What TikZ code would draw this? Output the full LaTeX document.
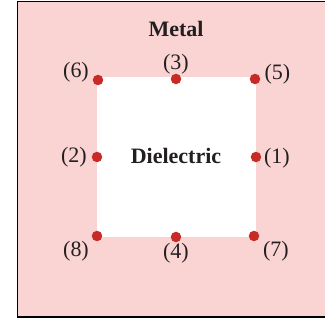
\documentclass[tikz,border=0pt]{standalone}
\usepackage{fontspec}
\setmainfont{Liberation Serif}
\definecolor{metalpink}{RGB}{250,211,211}
\definecolor{dotred}{RGB}{200,42,38}
\definecolor{txt}{RGB}{35,31,32}
\tikzset{
  pt/.style={circle,fill=dotred,inner sep=0pt,minimum size=10.5pt},
  lbl/.style={inner sep=0pt,text=txt,font=\fontsize{22}{26}\selectfont},
  ttl/.style={inner sep=0pt,text=txt,font=\fontsize{22}{26}\selectfont\bfseries},
}
\begin{document}
\begin{tikzpicture}[x=1pt,y=-1pt]
\useasboundingbox (0,0) rectangle (325,323);
\clip (0,0) rectangle (325,323);
\draw[line width=1.3pt,fill=metalpink] (17.5,1.7) rectangle (340,317);
\fill[white] (97,77) rectangle (256,237);
\node[ttl] (metal) at (176,29) {Metal};
\node[ttl] (diel) at (176,156) {Dielectric};
\node[pt] (p6) at (98,80) {};
\node[pt] (p3) at (176,79) {};
\node[pt] (p5) at (255,79) {};
\node[pt] (p2) at (97,157) {};
\node[pt] (p1) at (256,157) {};
\node[pt] (p8) at (97,236) {};
\node[pt] (p4) at (176,237) {};
\node[pt] (p7) at (254,236) {};
\node[lbl] (l6) at (76,72) {(6)};
\node[lbl] (l3) at (176,64) {(3)};
\node[lbl] (l5) at (277.5,74) {(5)};
\node[lbl] (l2) at (74,157) {(2)};
\node[lbl] (l1) at (277,158) {(1)};
\node[lbl] (l8) at (76,251) {(8)};
\node[lbl] (l4) at (176,253) {(4)};
\node[lbl] (l7) at (276,251) {(7)};
\end{tikzpicture}
\end{document}
